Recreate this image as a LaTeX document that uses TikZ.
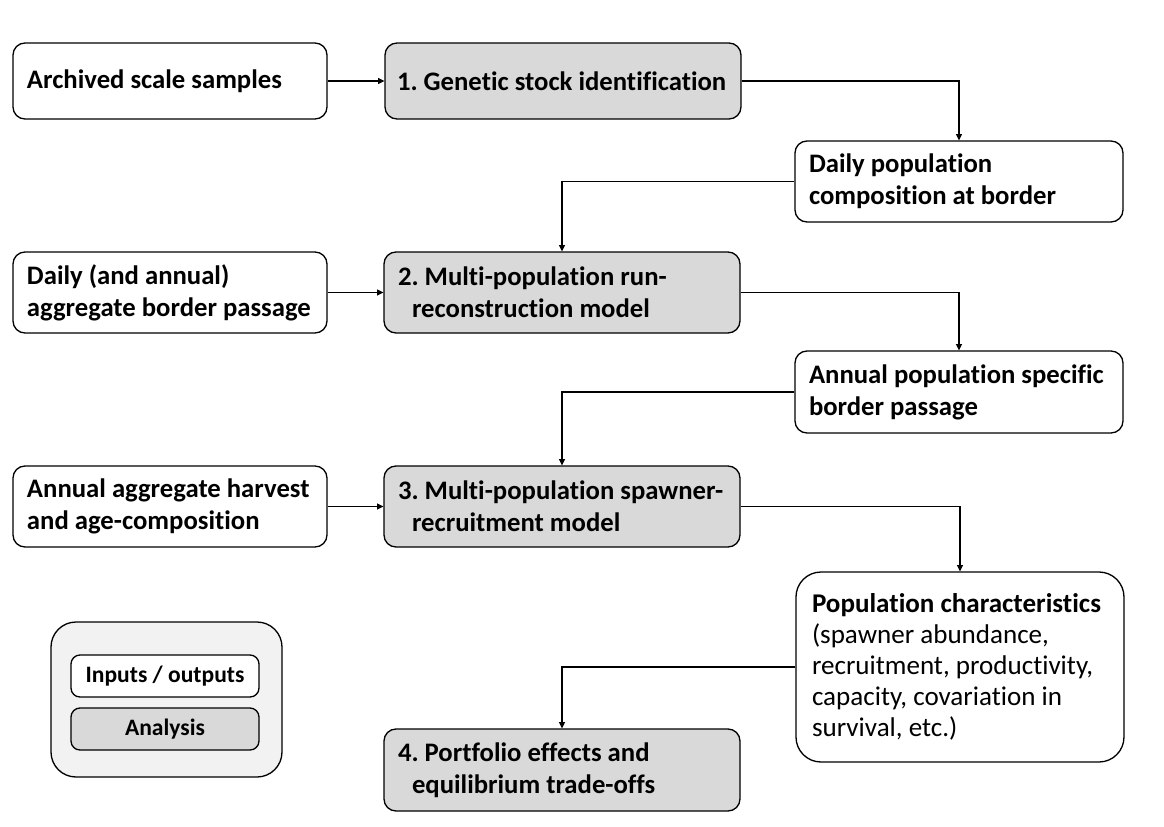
\documentclass[tikz,border=0pt]{standalone}
\usepackage{fontspec}
\setmainfont[Ligatures=NoCommon]{Carlito}
\usetikzlibrary{arrows.meta}
\frenchspacing
\hyphenpenalty=10000
\exhyphenpenalty=10000
\newdimen\pxu \pxu=0.02cm
\definecolor{anafill}{HTML}{D9D9D9}
\definecolor{legfill}{HTML}{F2F2F2}
\tikzset{
  base/.style={draw=black, line width=0.75pt, rounded corners=12\pxu, inner xsep=14\pxu, inner ysep=0pt,
    align=flush left, font=\fontsize{15.2}{18.2}\selectfont\bfseries},
  io/.style={base, fill=white},
  ana/.style={base, fill=anafill},
  arr/.style={draw=black, line width=0.6pt, -{Triangle[length=3.6pt,width=3.4pt]}},
  legtext/.style={draw=black, line width=0.75pt, rounded corners=9\pxu, inner sep=0pt,
    minimum width=188\pxu, minimum height=42\pxu, align=center, font=\fontsize{13.4}{15.6}\selectfont\bfseries}
}
\begin{document}
\begin{tikzpicture}[x=0.02cm, y=-0.02cm]
\useasboundingbox (0,0) rectangle (1164,826);
% inputs / outputs
\node[io, minimum width=314\pxu, minimum height=76\pxu, text width=286\pxu] (A) at (170,81) {Archived scale samples};
\node[io, minimum width=328\pxu, minimum height=81\pxu, text width=300\pxu] (D1) at (959,181.5) {Daily population\\composition at border};
\node[io, minimum width=314\pxu, minimum height=81\pxu, text width=286\pxu] (DA) at (170,292.5) {Daily (and annual)\\aggregate border passage};
\node[io, minimum width=328\pxu, minimum height=82\pxu, text width=300\pxu] (AP) at (959,392) {Annual population specific\\border passage};
\node[io, minimum width=314\pxu, minimum height=81\pxu, text width=286\pxu] (AH) at (170,506.5) {Annual aggregate harvest\\and age-composition};
\node[io, rounded corners=25\pxu, inner xsep=16\pxu, minimum width=328\pxu, minimum height=190\pxu, text width=296\pxu,
  font=\fontsize{15.4}{17.6}\selectfont] (PC) at (960,667)
  {\textbf{Population characteristics}\\(spawner abundance,\\recruitment, productivity,\\capacity, covariation in\\survival, etc.)};
% analyses
\node[ana, inner xsep=12\pxu, minimum width=356\pxu, minimum height=76\pxu, text width=332\pxu] (G1) at (563,81) {1. Genetic stock identification};
\node[ana, minimum width=356\pxu, minimum height=81\pxu, text width=328\pxu] (G2) at (562,292.5) {2. Multi-population run-\\\hspace*{14\pxu}reconstruction model};
\node[ana, minimum width=356\pxu, minimum height=81\pxu, text width=328\pxu] (G3) at (562,506.5) {3. Multi-population spawner-\\\hspace*{14\pxu}recruitment model};
\node[ana, minimum width=356\pxu, minimum height=82\pxu, text width=328\pxu] (G4) at (562,770) {4. Portfolio effects and\\\hspace*{14\pxu}equilibrium trade-offs};
% legend
\node[draw=black, line width=0.75pt, fill=legfill, rounded corners=25\pxu, minimum width=231\pxu, minimum height=155\pxu] (LEG) at (166.5,699.5) {};
\node[legtext, fill=white] (LIO) at (165,676) {Inputs / outputs};
\node[legtext, fill=anafill] (LAN) at (165,729) {Analysis};
% connectors
\draw[arr] (A.east) -- (G1.west);
\draw[arr] (G1.east) -| (D1.north);
\draw[arr] (D1.west) -| (G2.north);
\draw[arr] (DA.east) -- (G2.west);
\draw[arr] (G2.east) -| (AP.north);
\draw[arr] (AP.west) -| (G3.north);
\draw[arr] (AH.east) -- (G3.west);
\draw[arr] (G3.east) -| (PC.north);
\draw[arr] (PC.west) -| (G4.north);
\end{tikzpicture}
\end{document}
